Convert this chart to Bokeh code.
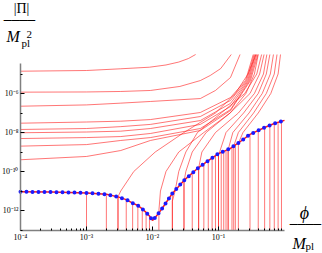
from bokeh.plotting import figure
from bokeh.models import FixedTicker, CustomJSTickFormatter, Label
from bokeh.embed import file_html
from bokeh.resources import INLINE

# ---- axis ranges / ticks -------------------------------------------------
PHI_MIN, PHI_MAX = 1e-4, 1.0
PI_MIN, PI_MAX = 1e-13, 1e-4
PI_AXIS_TOP = 3.5e-5   # the drawn y-axis line stops a little below the top of the range

x_major = [1e-4, 1e-3, 1e-2, 1e-1]
x_tick_labels = ["10\u207b\u2074", "10\u207b\u00b3", "10\u207b\u00b2", "10\u207b\u00b9"]
y_major = [1e-12, 1e-10, 1e-8, 1e-6]
y_minor = [1e-13, 1e-11, 1e-9, 1e-7, 1e-5]
y_tick_labels = ["10\u207b\u00b9\u00b2", "10\u207b\u00b9\u2070", "10\u207b\u2078", "10\u207b\u2076"]

# ---- attractor (blue dotted + red) --------------------------------------
att_phi = [1e-4, 3e-4, 1e-3, 2e-3, 3e-3, 4e-3, 5e-3, 6e-3, 7e-3, 8e-3, 9e-3, 1e-2,
           1.1e-2, 1.3e-2, 1.5e-2, 2e-2, 3e-2, 5e-2, 7e-2, 0.1, 0.15, 0.2, 0.3, 0.5, 0.7, 1.0]
att_pi = [9.1e-12, 8.8e-12, 8e-12, 6.8e-12, 5e-12, 3.6e-12, 2.4e-12, 1.8e-12, 1.2e-12, 8e-13,
          5.2e-13, 3.1e-13, 4.4e-13, 9e-13, 1.8e-12, 7.5e-12, 3.5e-11, 1.6e-10, 3.6e-10, 8.3e-10,
          1.5e-9, 2.9e-9, 8e-9, 1.8e-8, 2.9e-8, 4.2e-8]

# ---- family A: trajectories entering from the left edge -----------------
A_phi = [
    [1e-4, 1e-3, 3.3e-3, 9e-3, 1.6e-2, 2.5e-2, 3.5e-2, 4.5e-2],
    [1e-4, 1e-3, 3.3e-3, 9.3e-3, 2.6e-2, 5.3e-2, 7.5e-2, 0.108, 0.156],
    [1e-4, 1e-3, 3.3e-3, 9.3e-3, 5.3e-2, 9e-2, 0.152, 0.212],
    [1e-4, 1e-3, 3.3e-3, 9.3e-3, 5.3e-2, 0.152, 0.257, 0.336],
    [1e-4, 1e-3, 3.3e-3, 9.3e-3, 5.3e-2, 0.152, 0.266, 0.347],
    [1e-4, 1e-3, 3.3e-3, 9.3e-3, 5.3e-2, 0.152, 0.276, 0.357],
    [1e-4, 1e-3, 3.3e-3, 9.3e-3, 5.3e-2, 0.152, 0.285, 0.367],
    [1e-4, 1e-3, 3.3e-3, 9.3e-3, 5.3e-2, 0.152, 0.295, 0.381],
    [1e-4, 1e-3, 3.3e-3, 9.3e-3, 5.3e-2, 0.152, 0.305, 0.396],
]
A_pi = [
    [1.39e-5, 1.51e-5, 1.85e-5, 2.23e-5, 2.9e-5, 4.1e-5, 6.2e-5, 1e-4],
    [1.17e-6, 1.2e-6, 1.27e-6, 1.43e-6, 2.3e-6, 4.6e-6, 8.4e-6, 1.9e-5, 1e-4],
    [2.23e-7, 2.6e-7, 3.2e-7, 3.9e-7, 5.5e-7, 1.43e-6, 6.6e-6, 1e-4],
    [3.0e-8, 3.45e-8, 3.8e-8, 4.6e-8, 1.06e-7, 6.2e-7, 4.6e-6, 1e-4],
    [1.43e-8, 1.6e-8, 2.0e-8, 2.6e-8, 6.6e-8, 4.4e-7, 4.6e-6, 1e-4],
    [9.7e-9, 1.06e-8, 1.17e-8, 1.6e-8, 4.1e-8, 3.1e-7, 4.6e-6, 1e-4],
    [4.9e-9, 5.5e-9, 6.2e-9, 8.9e-9, 2.6e-8, 2.15e-7, 4.6e-6, 1e-4],
    [2.0e-9, 2.4e-9, 3.9e-9, 5.5e-9, 1.6e-8, 1.5e-7, 4.6e-6, 1e-4],
    [4.0e-10, 5.9e-10, 1.19e-9, 3.9e-9, 1.27e-8, 1.34e-7, 4.6e-6, 1e-4],
]

# ---- family B: from |Pi|=0, through the attractor, up to the top --------
B_phi = [
    [3e-3, 3e-3, 3.3e-3, 5.2e-3, 1.1e-2, 3e-2, 9e-2, 0.18, 0.28, 0.37],
    [0.0125, 0.0125, 0.0132, 0.016, 0.025, 0.06, 0.15, 0.26, 0.35, 0.4],
    [0.02, 0.02, 0.022, 0.025, 0.032, 0.048, 0.11, 0.25, 0.38, 0.45],
    [0.03, 0.03, 0.032, 0.04, 0.065, 0.15, 0.3, 0.42, 0.49],
    [0.05, 0.05, 0.056, 0.09, 0.2, 0.35, 0.48, 0.54],
    [0.1, 0.1, 0.104, 0.13, 0.24, 0.4, 0.53, 0.6],
    [0.14, 0.14, 0.165, 0.29, 0.46, 0.61, 0.68],
    [0.17, 0.17, 0.2, 0.34, 0.53, 0.7, 0.77],
    [0.2, 0.2, 0.235, 0.4, 0.62, 0.8, 0.87],
]
B_pi = [
    [PI_MIN, 5e-12, 1e-11, 1e-10, 1e-9, 1e-8, 1e-7, 1e-6, 1e-5, 1e-4],
    [PI_MIN, 1e-12, 1e-11, 1e-10, 1e-9, 1e-8, 1e-7, 1e-6, 1e-5, 1e-4],
    [PI_MIN, 3e-12, 1e-11, 1e-10, 1e-9, 1e-8, 1e-7, 1e-6, 1e-5, 1e-4],
    [PI_MIN, 3e-11, 1e-10, 1e-9, 1e-8, 1e-7, 1e-6, 1e-5, 1e-4],
    [PI_MIN, 1.5e-10, 1e-9, 1e-8, 1e-7, 1e-6, 1e-5, 1e-4],
    [PI_MIN, 8e-10, 1e-9, 1e-8, 1e-7, 1e-6, 1e-5, 1e-4],
    [PI_MIN, 1.3e-9, 1e-8, 1e-7, 1e-6, 1e-5, 1e-4],
    [PI_MIN, 2e-9, 1e-8, 1e-7, 1e-6, 1e-5, 1e-4],
    [PI_MIN, 2.8e-9, 1e-8, 1e-7, 1e-6, 1e-5, 1e-4],
]

# ---- family D: from |Pi|=0 straight up onto the attractor ---------------
drop_phi = [1e-3, 2e-3, 3e-3, 4e-3, 5e-3, 6e-3, 7e-3, 8e-3, 9e-3,
            0.02, 0.03, 0.04, 0.05, 0.06, 0.07, 0.08, 0.09, 0.1,
            0.11, 0.12, 0.13, 0.14, 0.16, 0.18,
            0.3, 0.4, 0.5, 0.6, 0.7, 0.8, 0.9]
drop_top = [7e-12, 6e-12, 4.5e-12, 3.3e-12, 2.2e-12, 1.6e-12, 1.1e-12, 7.5e-13, 5e-13,
            6.5e-12, 3.2e-11, 8e-11, 1.5e-10, 2.4e-10, 3.4e-10, 4.8e-10, 6.3e-10, 7.8e-10,
            9.5e-10, 1.1e-9, 1.25e-9, 1.4e-9, 1.75e-9, 2.2e-9,
            7.5e-9, 1.2e-8, 1.7e-8, 2.3e-8, 2.8e-8, 3.3e-8, 3.8e-8]

RED = "#ff1a1a"
BLUE = "#1a1aff"
SERIF = "Liberation Serif"

# ---- layout: the frame fills the canvas, axes sit at fixed locations -----
W, H = 322, 253
BOX_L, BOX_R, BOX_T, BOX_B = 20, 284, 54, 229.5          # axes box in pixels
px_dec_x = (BOX_R - BOX_L) / 4.0                          # 4 decades
px_dec_y = (BOX_B - BOX_T) / 9.0                          # 9 decades
x_range = (PHI_MIN * 10 ** (-BOX_L / px_dec_x), PHI_MAX * 10 ** ((W - BOX_R) / px_dec_x))
y_range = (PI_MIN * 10 ** (-(H - BOX_B) / px_dec_y), PI_MAX * 10 ** (BOX_T / px_dec_y))

p = figure(width=W, height=H, x_axis_type="log", y_axis_type="log",
           x_range=x_range, y_range=y_range, title=None,
           output_backend="svg", toolbar_location=None, min_border=0)
p.outline_line_color = None
p.xgrid.visible = False
p.ygrid.visible = False
p.background_fill_color = "white"
p.border_fill_color = "white"

# red trajectories
p.multi_line(xs=A_phi, ys=A_pi, line_color=RED, line_alpha=0.6, line_width=1)
p.multi_line(xs=B_phi, ys=B_pi, line_color=RED, line_alpha=0.6, line_width=1)
p.segment(x0=drop_phi, y0=[PI_MIN] * len(drop_phi), x1=drop_phi, y1=drop_top,
          line_color=RED, line_alpha=0.6, line_width=1)

# attractor
p.line(att_phi, att_pi, line_color=RED, line_width=1.5)
p.line(att_phi, att_pi, line_color=BLUE, line_width=4, line_dash="0 6", line_cap="round")

# axes
xa, ya = p.xaxis[0], p.yaxis[0]
xa.fixed_location = PI_MIN
ya.fixed_location = PHI_MIN
xa.bounds = (PHI_MIN, PHI_MAX)
ya.bounds = (PI_MIN, PI_AXIS_TOP)
for ax in (xa, ya):
    ax.axis_line_color = "#808080"
    ax.axis_line_width = 1.5
    ax.major_tick_in = 4
    ax.major_tick_out = 0
    ax.minor_tick_in = 2
    ax.minor_tick_out = 0
    ax.major_tick_line_color = "black"
    ax.minor_tick_line_color = "black"
    ax.major_label_text_font = SERIF
    ax.major_label_text_font_size = "8px"
    ax.major_label_text_color = "black"

minor_x = [m * 10.0 ** e for e in (-4, -3, -2, -1) for m in range(2, 10)]
xa.ticker = FixedTicker(ticks=x_major, minor_ticks=minor_x)
xa.formatter = CustomJSTickFormatter(
    args=dict(xt=x_major, xl=x_tick_labels),
    code="""
    for (let i = 0; i < xt.length; i++) {
        if (Math.abs(Math.log10(tick) - Math.log10(xt[i])) < 1e-6) return xl[i];
    }
    return "";
    """)
xa.major_label_standoff = 3

ya.ticker = FixedTicker(ticks=y_major, minor_ticks=y_minor)
ya.formatter = CustomJSTickFormatter(
    args=dict(yt=y_major, yl=y_tick_labels),
    code="""
    for (let i = 0; i < yt.length; i++) {
        if (Math.abs(Math.log10(tick) - Math.log10(yt[i])) < 1e-6) return yl[i];
    }
    return "";
    """)
ya.major_label_standoff = 2


def lab(x, y, text, dx, dy, size, align="left", baseline="bottom", font=SERIF, style="normal"):
    p.add_layout(Label(x=x, y=y, text=text, x_offset=dx, y_offset=dy, text_align=align,
                       text_baseline=baseline, text_font=font, text_font_style=style,
                       text_font_size=size, text_color="black"))


# y-axis title  |Pi| / M_pl^2  (top left)
lab(PHI_MIN, PI_MAX, "|\u03a0|", 1, 39, "14px", align="center")
lab(PHI_MIN, PI_MAX, "\u2500\u2500\u2500\u2500", -1, 34.5, "13px", align="center", baseline="middle",
    font="DejaVu Sans")
lab(PHI_MIN, PI_MAX, "M", -14, 9.5, "16px", style="italic")
lab(PHI_MIN, PI_MAX, "2", 6, 17, "11px")
lab(PHI_MIN, PI_MAX, "pl", 1, 6, "11px")

# x-axis title  phi / M_pl  (bottom right)
lab(PHI_MAX, PI_MIN, "\u03d5", 20, 7.5, "18px", align="center", style="italic")
lab(PHI_MAX, PI_MIN, "\u2500\u2500\u2500\u2500", 21, 5.5, "13px", align="center", baseline="middle",
    font="DejaVu Sans")
lab(PHI_MAX, PI_MIN, "M", 8, -22, "16px", style="italic")
lab(PHI_MAX, PI_MIN, "pl", 21, -22, "11px")

open("out.html", "w").write(file_html(p, INLINE))
